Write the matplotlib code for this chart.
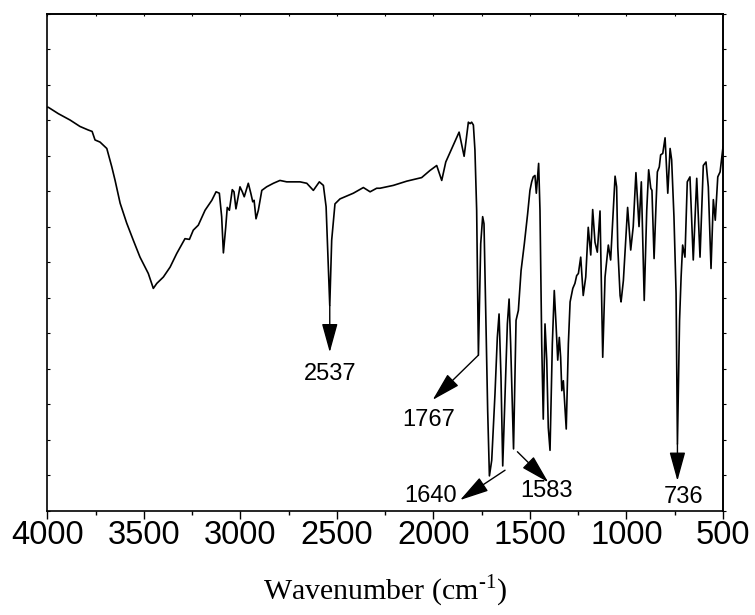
import matplotlib
matplotlib.use('Agg')
import matplotlib.pyplot as plt
from matplotlib.ticker import MultipleLocator, NullFormatter

# FTIR spectrum (transmittance in arbitrary units)
wavenumber = [4000, 3995, 3943, 3882, 3831, 3788, 3768, 3753, 3727, 3692,
              3666, 3649, 3623, 3589, 3555, 3520, 3477, 3451, 3433, 3399,
              3364, 3330, 3287, 3264, 3244, 3218, 3183, 3148, 3126, 3109,
              3097, 3088, 3076, 3068, 3057, 3042, 3033, 3023, 3002, 2990,
              2980, 2959, 2946, 2936, 2929, 2919, 2907, 2889, 2864, 2829,
              2795, 2760, 2691, 2656, 2622, 2591, 2570, 2556, 2537, 2527,
              2510, 2484, 2449, 2415, 2363, 2328, 2294, 2277, 2208, 2138,
              2061, 2018, 1983, 1957, 1936, 1905, 1867, 1841, 1819, 1810,
              1802, 1793, 1785, 1776, 1767, 1755, 1745, 1738, 1729, 1719,
              1710, 1698, 1681, 1669, 1660, 1650, 1641, 1629, 1617, 1608,
              1600, 1585, 1578, 1572, 1560, 1546, 1529, 1512, 1500, 1491,
              1483, 1474, 1467, 1460, 1455, 1448, 1439, 1431, 1422, 1413,
              1405, 1396, 1384, 1374, 1365, 1356, 1348, 1341, 1335, 1327,
              1318, 1312, 1301, 1292, 1278, 1267, 1258, 1249, 1237, 1224,
              1211, 1198, 1185, 1175, 1163, 1151, 1137, 1123, 1111, 1094,
              1082, 1071, 1059, 1051, 1045, 1033, 1028, 1016, 1008, 994,
              978, 965, 951, 935, 923, 916, 908, 895, 885, 874,
              868, 857, 847, 840, 830, 823, 812, 800, 786, 774,
              766, 754, 743, 736, 725, 717, 709, 697, 685, 671,
              654, 636, 619, 602, 588, 576, 562, 550, 540, 527,
              515, 500]

transmittance = [56.8, 56.8, 55.9, 55.0, 54.1, 53.6, 53.4, 52.2, 51.9, 51.0,
                 48.4, 46.5, 43.3, 40.5, 38.1, 35.7, 33.4, 31.3, 32.0, 32.9,
                 34.3, 36.2, 38.3, 38.2, 39.5, 40.2, 42.3, 43.7, 44.9, 44.7,
                 41.4, 36.3, 39.9, 42.7, 42.3, 45.2, 44.9, 42.5, 45.6, 44.9,
                 44.2, 46.1, 44.7, 43.5, 43.7, 41.1, 42.3, 45.1, 45.6, 46.1,
                 46.5, 46.3, 46.3, 46.1, 45.1, 46.3, 45.8, 42.8, 28.9, 38.1,
                 43.2, 43.9, 44.3, 44.7, 45.5, 44.9, 45.4, 45.4, 45.8, 46.4,
                 46.9, 47.9, 48.6, 46.5, 49.1, 51.0, 53.3, 49.9, 54.7, 54.5,
                 54.7, 54.3, 50.8, 42.3, 21.9, 37.6, 41.4, 40.4, 28.2, 14.1,
                 4.9, 7.1, 16.5, 24.4, 27.7, 18.8, 6.3, 16.5, 26.3, 29.8,
                 23.5, 8.7, 18.8, 26.8, 28.2, 33.8, 37.6, 41.8, 45.1, 46.3,
                 47.0, 47.2, 44.7, 47.2, 48.9, 42.3, 23.5, 12.9, 26.3, 21.2,
                 11.7, 8.5, 23.5, 31.0, 26.3, 21.2, 24.4, 21.6, 16.9, 18.3,
                 14.1, 11.5, 23.5, 29.4, 31.3, 32.0, 33.1, 33.4, 35.7, 30.3,
                 32.9, 39.9, 36.0, 42.4, 37.8, 36.4, 42.2, 21.6, 32.9, 37.4,
                 35.3, 40.9, 47.1, 45.6, 37.1, 30.3, 29.4, 32.4, 36.2, 42.7,
                 36.7, 40.0, 47.6, 40.0, 46.3, 38.5, 29.6, 42.3, 48.0, 45.4,
                 45.1, 35.5, 43.0, 47.7, 48.4, 50.1, 50.3, 52.5, 44.7, 51.0,
                 49.4, 41.4, 30.6, 9.4, 26.8, 32.9, 37.4, 35.7, 46.3, 47.0,
                 35.3, 46.8, 35.7, 48.6, 49.1, 45.6, 34.1, 43.8, 40.9, 47.0,
                 47.7, 51.2]

# labelled bands
peak_labels = ['2537', '1767', '1640', '1583', '736']

# arrow tail, arrow tip, text anchor and alignment for each label
ANNOTATIONS = {
    '2537': ((2537, 28.9), (2537, 22.3), (2537, 19.3), 'center'),
    '1767': ((1767, 21.9), (2004, 15.6), (2023, 12.7), 'center'),
    '1640': ((1629, 5.7), (1862, 1.5), (1880, 2.1), 'right'),
    '1583': ((1565, 8.3), (1405, 4.0), (1412, 2.8), 'center'),
    '736': ((736, 9.4), (736, 4.2), (703, 1.9), 'center'),
}

SANS = ['Liberation Sans', 'DejaVu Sans']
SERIF = ['Liberation Serif', 'DejaVu Serif']

plt.rcParams['mathtext.fontset'] = 'custom'
plt.rcParams['mathtext.rm'] = 'Liberation Serif'

fig = plt.figure(figsize=(7.55, 6.15), dpi=100)
ax = fig.add_axes([0.0627, 0.1696, 0.8949, 0.8084])

ax.plot(wavenumber, transmittance, color='black', lw=1.2)

for lab in peak_labels:
    tail, tip, txt, ha = ANNOTATIONS[lab]
    ax.annotate('', xy=tip, xytext=tail,
                arrowprops=dict(arrowstyle='-|>,head_length=1.2,head_width=0.33',
                                color='black', lw=1.0, shrinkA=0, shrinkB=0,
                                mutation_scale=15))
    ax.text(txt[0], txt[1], lab, ha=ha, va='center', fontsize=17, family=SANS)

ax.set_xlim(4000, 500)
ax.set_ylim(0, 70)

# x axis: labelled majors every 500, minors every 250, outward at the bottom
ax.xaxis.set_major_locator(MultipleLocator(500))
ax.xaxis.set_minor_locator(MultipleLocator(250))
ax.tick_params(axis='x', which='major', direction='out', length=5.5, width=1.0,
               pad=1, labelsize=23.5, top=False)
ax.tick_params(axis='x', which='minor', direction='out', length=3.2, width=1.0, top=False)
for t in ax.get_xticklabels():
    t.set_family(SANS)

# y axis: tiny ticks, no labels
ax.yaxis.set_major_locator(MultipleLocator(5))
ax.yaxis.set_major_formatter(NullFormatter())
ax.tick_params(axis='y', direction='in', length=2, width=0.8, left=True, right=False)

# tiny ticks on the top and right frame
top = ax.secondary_xaxis('top')
top.xaxis.set_major_locator(MultipleLocator(250))
top.xaxis.set_major_formatter(NullFormatter())
top.tick_params(direction='in', length=1.5, width=0.8)
right = ax.secondary_yaxis('right')
right.yaxis.set_major_locator(MultipleLocator(5))
right.yaxis.set_major_formatter(NullFormatter())
right.tick_params(direction='out', length=2, width=0.8)

for sp in list(ax.spines.values()) + [top.spines['top'], right.spines['right']]:
    sp.set_linewidth(1.2)

ax.set_xlabel('Wavenumber (cm$^{\\mathregular{\u2010}1}$)', fontsize=21.5,
              family=SERIF, labelpad=16)

fig.savefig('out.png', dpi=100)
